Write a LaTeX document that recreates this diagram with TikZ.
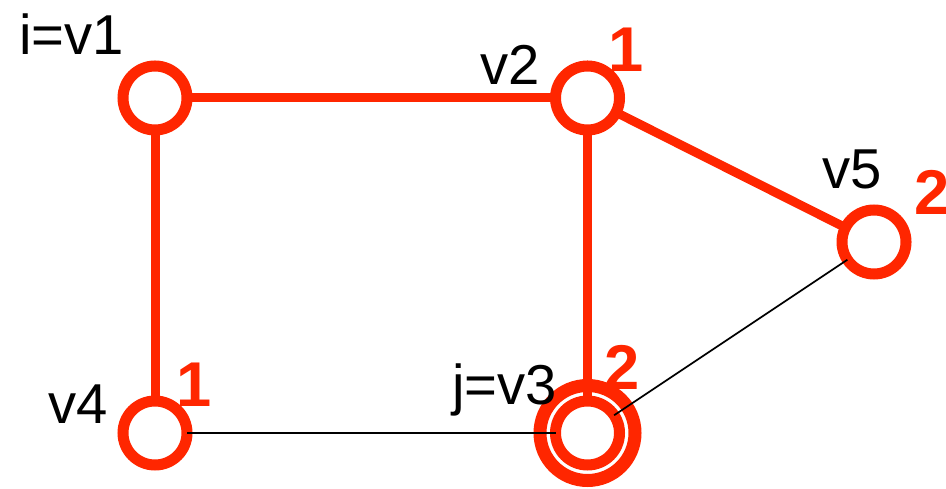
\documentclass[tikz,border=0pt]{standalone}
\usepackage{fontspec}
\setmainfont{Liberation Sans}
\usetikzlibrary{backgrounds}
\definecolor{vred}{RGB}{255,38,0}

\begin{document}
\begin{tikzpicture}[
  vert/.style={circle, draw=vred, line width=0.22cm, fill=white, minimum size=1.28cm, inner sep=0pt, outer sep=0pt},
  ring/.style={circle, draw=vred, line width=0.26cm, minimum size=1.9cm, inner sep=0pt, outer sep=0pt},
  redge/.style={vred, line width=0.18cm},
  bedge/.style={black, line width=1pt},
  lbl/.style={anchor=base, inner sep=0pt, font=\fontsize{32}{38}\selectfont},
  num/.style={anchor=base, inner sep=0pt, text=vred, font=\fontsize{36}{43}\selectfont\bfseries}]
  \useasboundingbox (0,0) rectangle (18.92,9.76);
  \node[ring] (v3o) at (11.75,1.10) {};
  \node[vert] (v1) at (3.10,7.80) {};
  \node[vert] (v2) at (11.75,7.80) {};
  \node[vert] (v5) at (17.48,4.92) {};
  \node[vert] (v4) at (3.10,1.10) {};
  \node[vert] (v3) at (11.75,1.10) {};
  \begin{scope}[on background layer]
    \draw[redge] (v1) -- (v2);
    \draw[redge] (v1) -- (v4);
    \draw[redge] (v2) -- (v3);
    \draw[redge] (v2) -- (v5);
  \end{scope}
  \draw[bedge] (v4) -- (v3);
  \draw[bedge] (v5) -- (v3);
  \node[lbl] (l1) at (1.43,8.66) {i=v1};
  \node[lbl] (l2) at (10.20,8.06) {v2};
  \node[lbl] (l5) at (17.04,5.98) {v5};
  \node[lbl] (l4) at (1.57,1.30) {v4};
  \node[lbl] (l3) at (10.09,1.66) {j=v3};
  \node[num] (n2) at (12.53,8.32) {1};
  \node[num] (n5) at (18.65,5.46) {2};
  \node[num] (n4) at (3.88,1.62) {1};
  \node[num] (n3) at (12.45,1.96) {2};
\end{tikzpicture}
\end{document}
